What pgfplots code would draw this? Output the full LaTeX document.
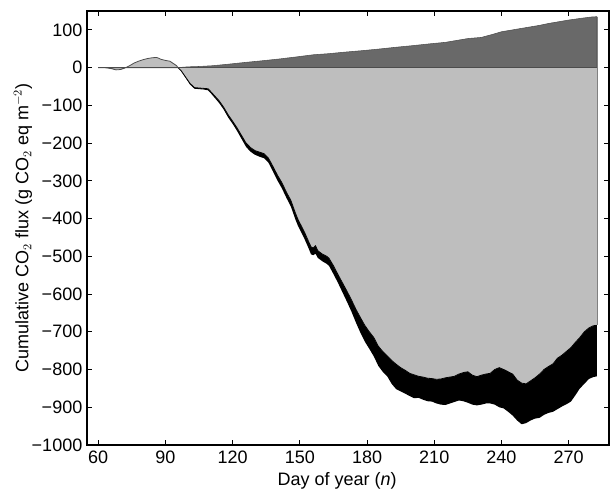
\documentclass[border=0pt]{standalone}
\usepackage{pgfplots}
\pgfplotsset{compat=1.18}
\usepackage{pgfplotstable}
\usepgfplotslibrary{fillbetween}
\usetikzlibrary{calc}
\usepackage{fontspec}
\setmainfont{Liberation Sans}
\definecolor{lgray}{HTML}{BEBEBE}
\definecolor{dgray}{HTML}{696969}

\pgfplotstableread{
d u l
95.6 0 0
97 -8 -9
99 -25 -27
101 -42 -45
103 -53 -56
105 -54 -57
107 -55 -58
109 -56 -60
110 -62 -66
112 -75 -80
114 -88 -94
116 -105 -111
118 -125 -132
120 -142 -149
122 -160 -168
124 -180 -189
126 -200 -210
128 -212 -223
130 -220 -231
132 -224 -236
134 -228 -240
136 -240 -252
138 -262 -275
140 -285 -299
142 -305 -320
144 -330 -345
146 -352 -368
148 -385 -402
149 -400 -417
150 -412 -429
152 -435 -453
154 -462 -480
155 -475 -495
156 -478 -497
157 -472 -493
158 -485 -504
160 -494 -513
162 -500 -520
163 -505 -525
165 -525 -547
167 -548 -570
169 -570 -595
171 -592 -620
173 -615 -646
175 -640 -675
177 -662 -702
179 -683 -726
181 -700 -745
183 -715 -765
185 -738 -790
187 -752 -806
189 -764 -818
191 -776 -838
193 -786 -852
195 -795 -858
197 -802 -864
199 -810 -870
201 -814 -876
203 -818 -875
205 -820 -880
207 -823 -884
209 -824 -885
211 -826 -890
213 -825 -893
215 -822 -894
217 -820 -890
219 -818 -886
221 -812 -882
223 -808 -884
225 -806 -888
227 -815 -893
229 -819 -895
231 -815 -893
233 -812 -890
235 -810 -890
237 -800 -893
239 -795 -900
241 -800 -903
243 -806 -912
245 -812 -922
247 -828 -935
249 -836 -945
251 -838 -942
253 -830 -935
255 -822 -930
257 -812 -928
259 -800 -920
261 -792 -915
263 -785 -912
265 -770 -905
267 -762 -898
269 -752 -892
271 -742 -885
273 -728 -868
275 -715 -850
277 -700 -838
279 -690 -825
281 -684 -820
282.6 -683 -818
}\negdata

\pgfplotstableread{
d p
95.6 0
100 2
105 3
111 5
118 9
126 14
133 18
141 23
148 28
156 34
163 37
170 41
178 45
185 49
193 54
200 58
208 63
215 67
220 72
225 77
231 80
236 88
240 95
246 101
252 107
257 112
261 117
266 122
270 126
276 131
280 134
282.6 135
}\posdata

\pgfplotstableread{
d e
60 0
62 0
64 -1
66 -3
68 -6
70 -5
72 -1
74 5
76 12
78 17
80 21
82 24
84 26
86 27
87 25
88 22
90 19
92 17
93 13
94 9
95 5
95.6 0
}\earlydata

\begin{document}
\begin{tikzpicture}
\begin{axis}[
  name=ax,
  width=391.5pt, height=325.5pt,
  scale only axis,
  xmin=55, xmax=288,
  ymin=-1000, ymax=150,
  xtick={60,90,...,270},
  ytick={-1000,-900,-800,-700,-600,-500,-400,-300,-200,-100,0,100},
  yticklabels={−1000,−900,−800,−700,−600,−500,−400,−300,−200,−100,0,100},
  tick align=inside,
  major tick length=4pt,
  tick style={black, line width=0.8pt},
  axis line style={black, line width=0.9pt},
  /pgf/number format/assume math mode=true,
  tick label style={font=\fontsize{13.5}{15}\selectfont},
  label style={font=\fontsize{13.5}{15}\selectfont},
  xlabel={Day of year (\textit{n})},
  ylabel={Cumulative CO$_2$ flux (g CO$_2$ eq m$^{-2}$)},
  xlabel style={at={(axis description cs:0.479,-0.083)}, anchor=center},
  ylabel style={at={(axis description cs:-0.1226,0.5)}, anchor=center},
  xticklabel style={yshift=-1pt},
  axis on top,
  clip=true,
]
\addplot[draw=none, fill=lgray] table[x=d, y=u] {\negdata} \closedcycle;
\addplot[name path=U, black, line width=0.6pt] table[x=d, y=u] {\negdata};
\addplot[name path=L, draw=none] table[x=d, y=l] {\negdata};
\addplot[black] fill between[of=U and L];
\addplot[draw=gray!60!black, line width=0.4pt, fill=dgray] table[x=d, y=p] {\posdata} \closedcycle;
\addplot[draw=gray!60!black, line width=0.6pt, fill=lgray] table[x=d, y=e] {\earlydata} \closedcycle;
\addplot[gray!60!black, line width=0.5pt] coordinates {(60,0) (282.6,0)};
\addplot[gray, line width=0.5pt] coordinates {(282.6,135) (282.6,-683)};
\end{axis}
\pgfresetboundingbox
\path ($(ax.south west)+(-65.25pt,-34.5pt)$) rectangle ($(ax.north east)+(1.5pt,8.25pt)$);
\end{tikzpicture}
\end{document}
